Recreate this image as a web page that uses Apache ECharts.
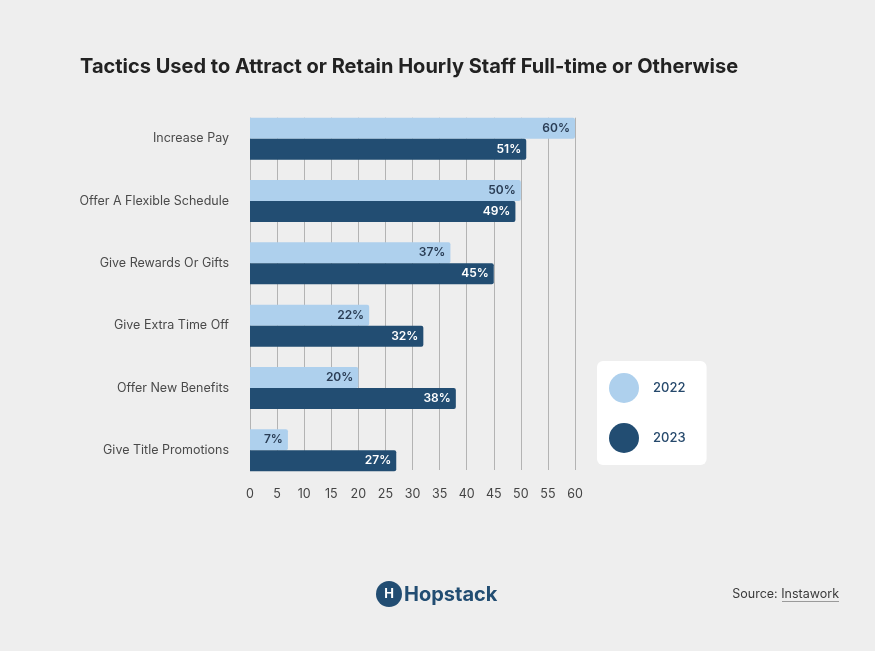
<!DOCTYPE html>
<html>
<head>
<meta charset="utf-8">
<script src="https://cdn.jsdelivr.net/npm/echarts@6/dist/echarts.min.js"></script>
<style>
html,body{margin:0;padding:0;background:#eeeeee;}
#c{width:875px;height:651px;}
</style>
</head>
<body>
<div id="c"></div>
<script>
const categories = ['Increase Pay','Offer A Flexible Schedule','Give Rewards Or Gifts','Give Extra Time Off','Offer New Benefits','Give Title Promotions'];
const values2022 = [60, 50, 37, 22, 20, 7];
const values2023 = [51, 49, 45, 32, 38, 27];
const seriesNames = ['2022', '2023'];
const axisMax = 60;
const axisStep = 5;

const FONT = 'Inter, "Noto Sans", sans-serif';
const LIGHT = '#aed0ed';
const DARK = '#224d72';

const chart = echarts.init(document.getElementById('c'), null, {renderer: 'canvas'});
chart.setOption({
  backgroundColor: '#eeeeee',
  animation: false,
  textStyle: {fontFamily: FONT},
  title: {
    text: 'Tactics Used to Attract or Retain Hourly Staff Full-time or Otherwise',
    left: 80, top: 57, padding: 0,
    textStyle: {fontFamily: FONT, fontSize: 20, fontWeight: 700, color: '#222222'}
  },
  legend: {
    data: seriesNames,
    orient: 'vertical',
    left: 597, top: 361,
    backgroundColor: '#ffffff',
    borderRadius: 6,
    padding: [12, 21, 12, 12],
    itemWidth: 30, itemHeight: 30, itemGap: 20,
    icon: 'circle',
    textStyle: {fontFamily: FONT, fontSize: 13, fontWeight: 500, color: '#26496c', padding: [0,0,0,9]}
  },
  grid: [
    {left: 250, width: 325, top: 107.5, height: 374, containLabel: false},
    {left: 250, width: 325, top: 117.7, height: 352.3, containLabel: false}
  ],
  xAxis: [
    {type: 'value', gridIndex: 0, min: 0, max: axisMax, interval: axisStep,
     axisLine: {show: false}, axisTick: {show: false}, axisLabel: {show: false}, splitLine: {show: false}},
    {type: 'value', gridIndex: 1, min: 0, max: axisMax, interval: axisStep,
     axisLine: {show: false}, axisTick: {show: false},
     axisLabel: {show: true, margin: 18, fontFamily: FONT, fontSize: 12.5, color: '#444444'},
     splitLine: {show: true, lineStyle: {color: '#b3b3b3', width: 1}}}
  ],
  yAxis: [
    {type: 'category', gridIndex: 0, data: categories, inverse: true,
     axisLine: {show: false}, axisTick: {show: false},
     axisLabel: {margin: 21, fontFamily: FONT, fontSize: 12.5, color: '#4a4a4a'}},
    {type: 'category', gridIndex: 1, data: categories, inverse: true, show: false}
  ],
  series: [
    {name: seriesNames[0], type: 'bar', xAxisIndex: 0, yAxisIndex: 0, data: values2022,
     barWidth: 21, barGap: '0%', z: 3,
     itemStyle: {color: LIGHT, borderRadius: [0, 2, 2, 0]},
     label: {show: true, position: 'insideRight', distance: 5, formatter: '{c}%',
             fontFamily: FONT, fontSize: 12, fontWeight: 600, color: '#2a3d55'}},
    {name: seriesNames[1], type: 'bar', xAxisIndex: 0, yAxisIndex: 0, data: values2023,
     barWidth: 21, barGap: '0%', z: 3,
     itemStyle: {color: DARK, borderRadius: [0, 2, 2, 0]},
     label: {show: true, position: 'insideRight', distance: 5, formatter: '{c}%',
             fontFamily: FONT, fontSize: 12, fontWeight: 600, color: '#ffffff'}}
  ],
  graphic: [
    {type: 'circle', shape: {cx: 389, cy: 594, r: 13}, style: {fill: DARK}},
    {type: 'text', x: 389, y: 594, style: {text: 'H', fill: '#ffffff', font: '700 13px ' + FONT, align: 'center', verticalAlign: 'middle'}},
    {type: 'text', x: 404, y: 595, style: {text: 'Hopstack', fill: DARK, font: '700 20px ' + FONT, align: 'left', verticalAlign: 'middle'}},
    {type: 'text', x: 839, y: 594, style: {text: 'Source: Instawork', fill: '#3a3a3a', font: '400 12.5px ' + FONT, align: 'right', verticalAlign: 'middle'}},
    {type: 'line', shape: {x1: 782, y1: 601.5, x2: 839, y2: 601.5}, style: {stroke: '#9a9a9a', lineWidth: 1}}
  ]
});
</script>
</body>
</html>
